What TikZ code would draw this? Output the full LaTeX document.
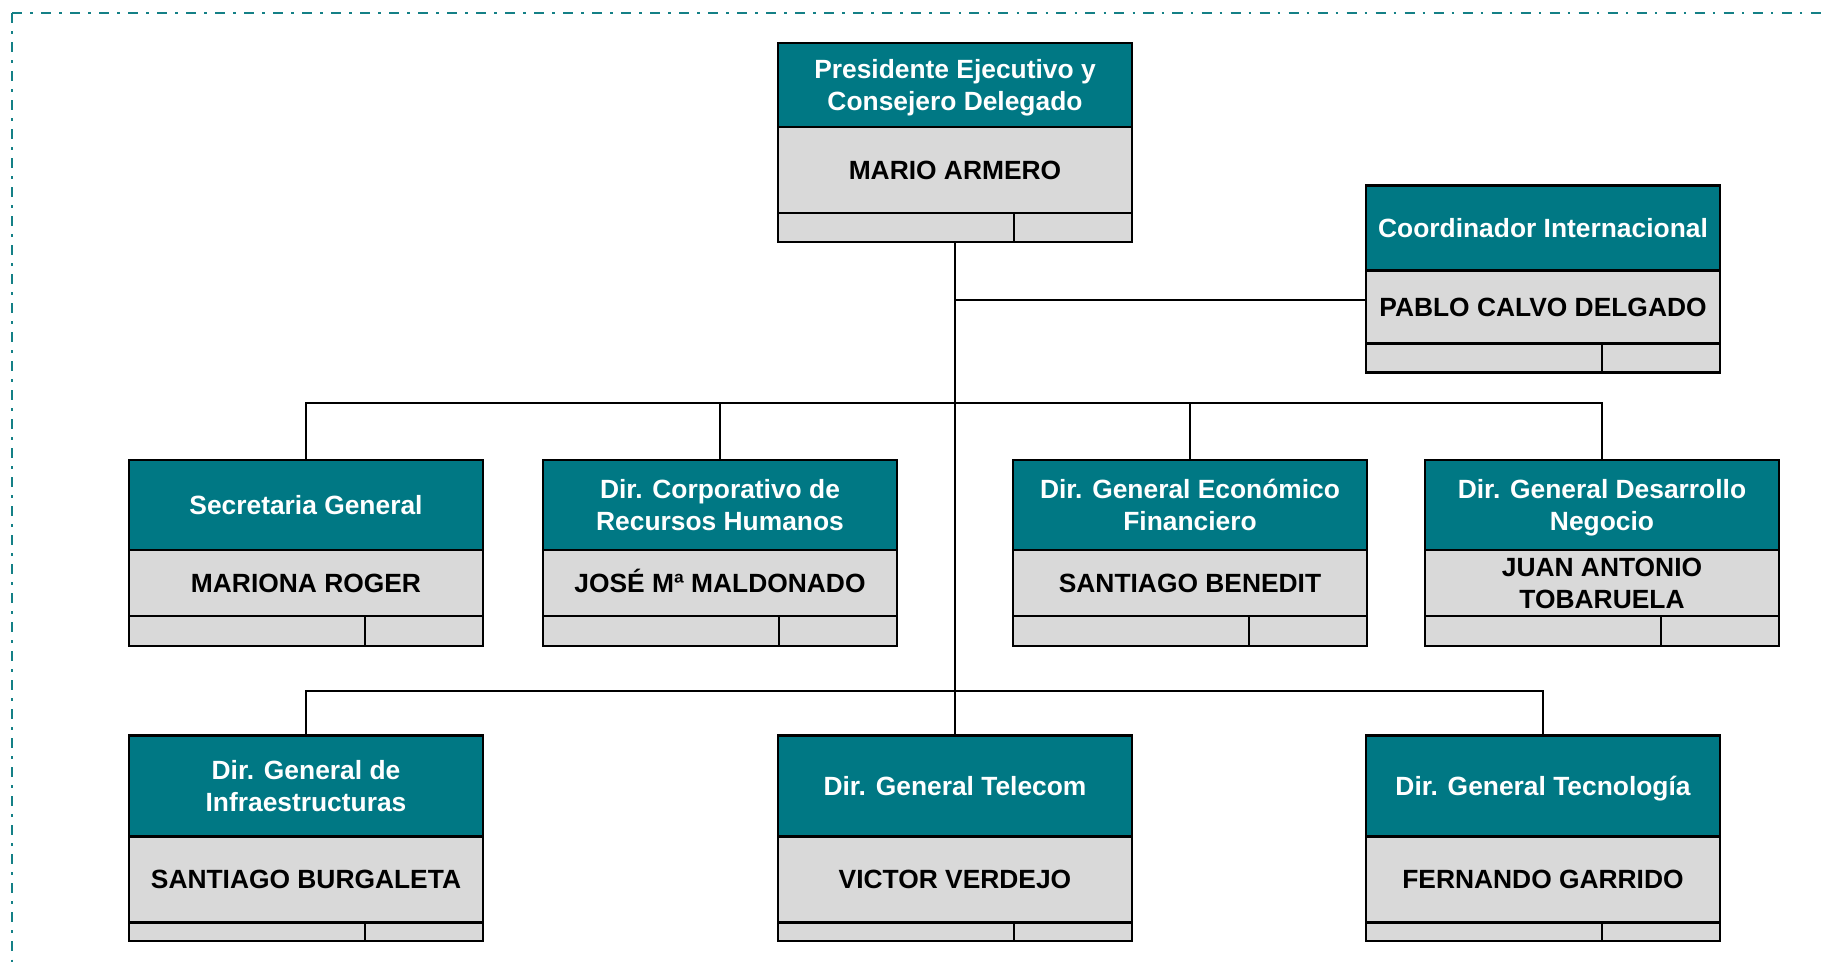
\documentclass[tikz,border=0pt]{standalone}
\usepackage{fontspec}
\setmainfont{Liberation Sans}
\usetikzlibrary{positioning}
\definecolor{cteal}{RGB}{0,120,132}
\definecolor{cgray}{RGB}{217,217,217}
\definecolor{cframe}{RGB}{20,128,134}

\tikzset{
  box/.style={draw, line width=0.62pt, minimum width=3.54cm, inner sep=0pt, outer sep=0pt,
    align=center, font=\bfseries\fontsize{7.5}{9}\selectfont,
    execute at begin node={\rule{0pt}{7.5pt}}, execute at end node={\rule[-2.2pt]{0pt}{2.2pt}}},
  twolines/.style={execute at begin node={\rule{0pt}{16.5pt}}},
  head/.style={box, fill=cteal, text=white},
  person/.style={box, fill=cgray, text=black},
  cell/.style={draw, line width=0.62pt, fill=cgray, inner sep=0pt, outer sep=0pt},
  link/.style={line width=0.5pt},
  frame/.style={draw=cframe, line width=0.6pt,
    dash pattern=on 2.85pt off 2.3pt on 0.7pt off 2.4pt}
}

\begin{document}
\begin{tikzpicture}[x=0.01cm, y=-0.01cm]
  \useasboundingbox (0,0) rectangle (1823,970);
  \draw[frame] (12,13) -- (1823,13);
  \draw[frame] (12,13) -- (12,970);

  % top
  \node[head, twolines, minimum height=0.84cm] (pres) at (955,85) {Presidente Ejecutivo y\\Consejero Delegado};
  \node[person, minimum height=0.86cm, below=0pt of pres] (presn) {MARIO ARMERO};
  \node[head, minimum height=0.85cm] (coord) at (1543,228) {Coordinador Internacional};
  \node[person, minimum height=0.73cm, below=0pt of coord] (coordn) {PABLO CALVO DELGADO};

  % second row
  \node[head, minimum height=0.9cm] (sec) at (306,505) {Secretaria General};
  \node[person, minimum height=0.66cm, below=0pt of sec] (secn) {MARIONA ROGER};
  \node[head, twolines, minimum height=0.9cm] (rrhh) at (720,505) {Dir. Corporativo de\\Recursos Humanos};
  \node[person, minimum height=0.66cm, below=0pt of rrhh] (rrhhn) {JOSÉ Mª MALDONADO};
  \node[head, twolines, minimum height=0.9cm] (eco) at (1190,505) {Dir. General Económico\\Financiero};
  \node[person, minimum height=0.66cm, below=0pt of eco] (econ) {SANTIAGO BENEDIT};
  \node[head, twolines, minimum height=0.9cm] (neg) at (1602,505) {Dir. General Desarrollo\\Negocio};
  \node[person, twolines, minimum height=0.66cm, below=0pt of neg] (negn) {JUAN ANTONIO\\TOBARUELA};

  % third row
  \node[head, twolines, minimum height=1.01cm] (infra) at (306,786) {Dir. General de\\Infraestructuras};
  \node[person, minimum height=0.86cm, below=0pt of infra] (infran) {SANTIAGO BURGALETA};
  \node[head, minimum height=1.01cm] (tel) at (955,786) {Dir. General Telecom};
  \node[person, minimum height=0.86cm, below=0pt of tel] (teln) {VICTOR VERDEJO};
  \node[head, minimum height=1.01cm] (tec) at (1543,786) {Dir. General Tecnología};
  \node[person, minimum height=0.86cm, below=0pt of tec] (tecn) {FERNANDO GARRIDO};

  \foreach \nm/\h in {pres/0.29cm, coord/0.29cm, sec/0.3cm, rrhh/0.3cm, eco/0.3cm, neg/0.3cm,
      infra/0.18cm, tel/0.18cm, tec/0.18cm}{
    \node[cell, minimum width=2.36cm, minimum height=\h, below right=0pt and 0pt of \nm n.south west] (\nm s1) {};
    \node[cell, minimum width=1.18cm, minimum height=\h, right=0pt of \nm s1] (\nm s2) {};
  }

  \coordinate (j1) at (955,300);
  \coordinate (bus2) at (955,403);
  \coordinate (bus3) at (955,691);
  \draw[link] (press1.south -| presn.south) -- (tel.north);
  \draw[link] (j1) -- (j1 -| coordn.west);
  \draw[link] (sec.north) |- (bus2) -| (neg.north);
  \draw[link] (rrhh.north) -- (rrhh.north |- bus2);
  \draw[link] (eco.north) -- (eco.north |- bus2);
  \draw[link] (infra.north) |- (bus3) -| (tec.north);
\end{tikzpicture}
\end{document}
